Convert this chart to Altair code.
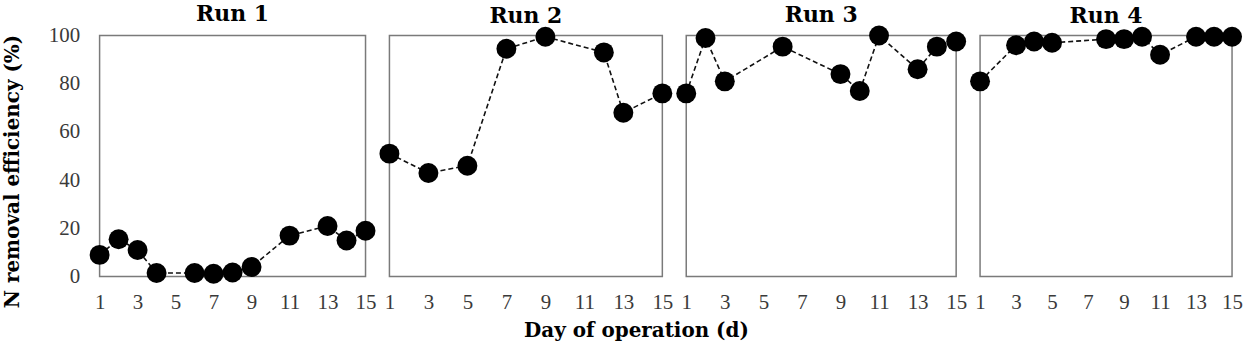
import altair as alt
import pandas as pd

FONT = "Liberation Serif, Times New Roman, serif"
BFONT = "DejaVu Serif, Liberation Serif, serif"

run_names = ["Run 1", "Run 2", "Run 3", "Run 4"]

run1_days = [1, 2, 3, 4, 6, 7, 8, 9, 11, 13, 14, 15]
run1_vals = [9, 15.5, 11, 1.5, 1.5, 1.2, 1.7, 4, 17, 21, 15, 19]

run2_days = [1, 3, 5, 7, 9, 12, 13, 15]
run2_vals = [51, 43, 46, 94.5, 99.5, 93, 68, 76]

run3_days = [1, 2, 3, 6, 9, 10, 11, 13, 14, 15]
run3_vals = [76, 99, 81, 95.4, 84, 77, 100, 86, 95.4, 97.5]

run4_days = [1, 3, 4, 5, 8, 9, 10, 11, 13, 14, 15]
run4_vals = [81, 96, 97.5, 97, 98.5, 98.5, 99.5, 92, 99.5, 99.5, 99.5]

x_ticks = [1, 3, 5, 7, 9, 11, 13, 15]
y_ticks = [0, 20, 40, 60, 80, 100]

all_days = [run1_days, run2_days, run3_days, run4_days]
all_vals = [run1_vals, run2_vals, run3_vals, run4_vals]
widths = [267, 274, 271, 253]

LABEL_COLOR = "#3a3a3a"


def panel(i):
    df = pd.DataFrame({"day": all_days[i], "value": all_vals[i]})
    x = alt.X(
        "day:Q",
        scale=alt.Scale(domain=[1, 15], nice=False, zero=False),
        axis=alt.Axis(
            values=x_ticks,
            title=None,
            ticks=False,
            tickSize=0,
            domain=False,
            grid=False,
            labelFont=FONT,
            labelFontSize=21,
            labelColor=LABEL_COLOR,
            labelPadding=15,
            labelFlush=False,
        ),
    )
    if i == 0:
        yaxis = alt.Axis(
            values=y_ticks,
            title=None,
            ticks=False,
            tickSize=0,
            domain=False,
            grid=False,
            labelFont=FONT,
            labelFontSize=21,
            labelColor=LABEL_COLOR,
            labelPadding=20,
        )
    else:
        yaxis = None
    y = alt.Y("value:Q", scale=alt.Scale(domain=[0, 100], nice=False), axis=yaxis)
    base = alt.Chart(df)
    line = base.mark_line(color="#111111", strokeWidth=1.6, strokeDash=[5, 3]).encode(
        x=x, y=y
    )
    pts = base.mark_point(
        filled=True, shape="circle", size=400, color="#000000", opacity=1
    ).encode(x=x, y=y)
    return alt.layer(line, pts).properties(
        width=widths[i],
        height=242,
        title=alt.TitleParams(
            text=run_names[i],
            font=BFONT,
            fontSize=22,
            fontWeight="bold",
            color="#000000",
            anchor="middle",
            frame="group",
            offset=-1,
        ),
    )


inner = alt.hconcat(
    *[panel(i) for i in range(4)], spacing=24, bounds="flush"
).properties(
    title=alt.TitleParams(
        text="Day of operation (d)",
        orient="bottom",
        anchor="middle",
        font=BFONT,
        fontSize=20,
        fontWeight="bold",
        color="#000000",
        offset=8,
        dx=-9,
    )
)

chart = (
    alt.vconcat(inner)
    .properties(
        title=alt.TitleParams(
            text="N removal efficiency (%)",
            orient="left",
            anchor="middle",
            font=BFONT,
            fontSize=20,
            fontWeight="bold",
            color="#000000",
            offset=26,
            dy=1,
        ),
        padding={"left": 2, "top": 1, "right": 0, "bottom": 0},
    )
    .configure_view(stroke="#7a7a7a", strokeWidth=1.5)
)

chart.save("out.html", embed_options={"renderer": "svg", "actions": False})
